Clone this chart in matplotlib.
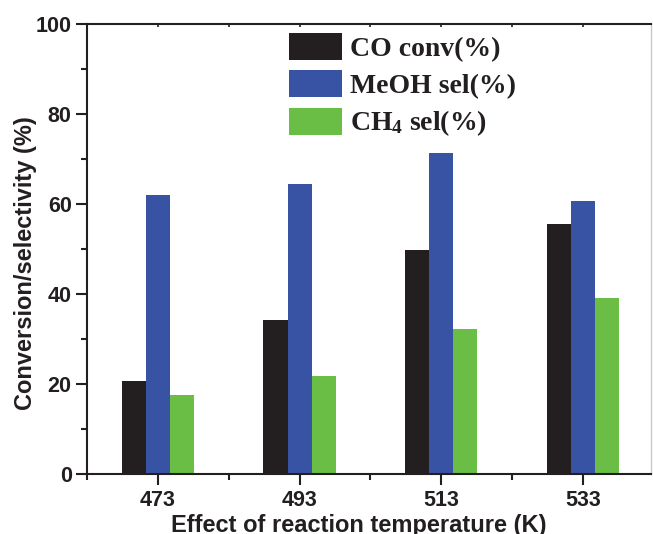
import matplotlib
matplotlib.use("Agg")
import matplotlib.pyplot as plt
from matplotlib.patches import Patch
from matplotlib.ticker import MultipleLocator, FixedLocator, NullFormatter

# Reaction temperatures (K) and measured performance (%)
temperatures = [473, 493, 513, 533]
co_conv = [20.6, 34.1, 49.7, 55.4]
meoh_sel = [61.9, 64.3, 71.2, 60.6]
ch4_sel = [17.4, 21.7, 32.1, 39.0]
series_labels = ["CO conv(%)", "MeOH sel(%)", "CH$_4$ sel(%)"]
y_ticks = [0, 20, 40, 60, 80, 100]

plt.rcParams["mathtext.fontset"] = "custom"
plt.rcParams["mathtext.rm"] = "Liberation Serif:bold"
plt.rcParams["mathtext.bf"] = "Liberation Serif:bold"
plt.rcParams["mathtext.it"] = "Liberation Serif:bold"

INK = "#231f20"
colors = ["#231f20", "#3953a4", "#6abd45"]

fig = plt.figure(figsize=(6.53, 5.34), dpi=100)
ax = fig.add_axes([87 / 653, (534 - 473.5) / 534, (651 - 87) / 653, (473.5 - 23.5) / 534])

width = 3.4
offsets = [-width, 0, width]
for vals, off, col in zip([co_conv, meoh_sel, ch4_sel], offsets, colors):
    ax.bar([t + off for t in temperatures], vals, width=width, color=col, linewidth=0)

ax.set_xlim(463, 542.6)
ax.set_ylim(0, 100)

ax.set_xticks(temperatures)
ax.set_xticklabels([str(t) for t in temperatures])
ax.xaxis.set_minor_locator(FixedLocator([463, 483, 503, 523]))
ax.set_yticks(y_ticks)
ax.yaxis.set_minor_locator(MultipleLocator(10))

for lab in ax.get_xticklabels() + ax.get_yticklabels():
    lab.set_fontfamily("Liberation Sans")
    lab.set_fontweight("bold")
    lab.set_fontsize(15.5)
    lab.set_color(INK)

ax.tick_params(axis="both", which="major", direction="out", length=8, width=1.5, color=INK, pad=3)
ax.tick_params(axis="x", which="major", pad=4)
ax.tick_params(axis="both", which="minor", direction="out", length=4, width=1.5, color=INK)

for side in ["left", "bottom", "top"]:
    ax.spines[side].set_linewidth(1.5)
    ax.spines[side].set_color(INK)
ax.spines["right"].set_linewidth(1.0)
ax.spines["right"].set_color("#c8c8c8")

# Short inward ticks along the top edge
top = ax.secondary_xaxis("top")
top.set_xticks([463, 473, 483, 493, 503, 513, 523, 533])
top.xaxis.set_major_formatter(NullFormatter())
top.tick_params(direction="in", length=3, width=1.2, color=INK)
top.spines["top"].set_visible(False)

ax.set_xlabel("Effect of reaction temperature (K)", fontfamily="Liberation Sans",
              fontweight="bold", fontsize=17, color=INK)
ax.xaxis.set_label_coords(0.481, -0.089)
ax.set_ylabel("Conversion/selectivity (%)", fontfamily="Liberation Sans",
              fontweight="bold", fontsize=17, color=INK)
ax.yaxis.set_label_coords(-0.089, 0.468)

handles = [Patch(facecolor=c, edgecolor="none") for c in colors]
leg = ax.legend(handles, series_labels, loc="upper left",
                bbox_to_anchor=(289 / 653, (534 - 33) / 534), bbox_transform=fig.transFigure,
                frameon=False, borderpad=0, borderaxespad=0,
                handlelength=1.9, handleheight=1.12, labelspacing=0.3, handletextpad=0.3,
                prop=dict(family="Liberation Serif", weight="bold", size=20))
for t in leg.get_texts():
    t.set_color(INK)

fig.savefig("out.png", dpi=100)
